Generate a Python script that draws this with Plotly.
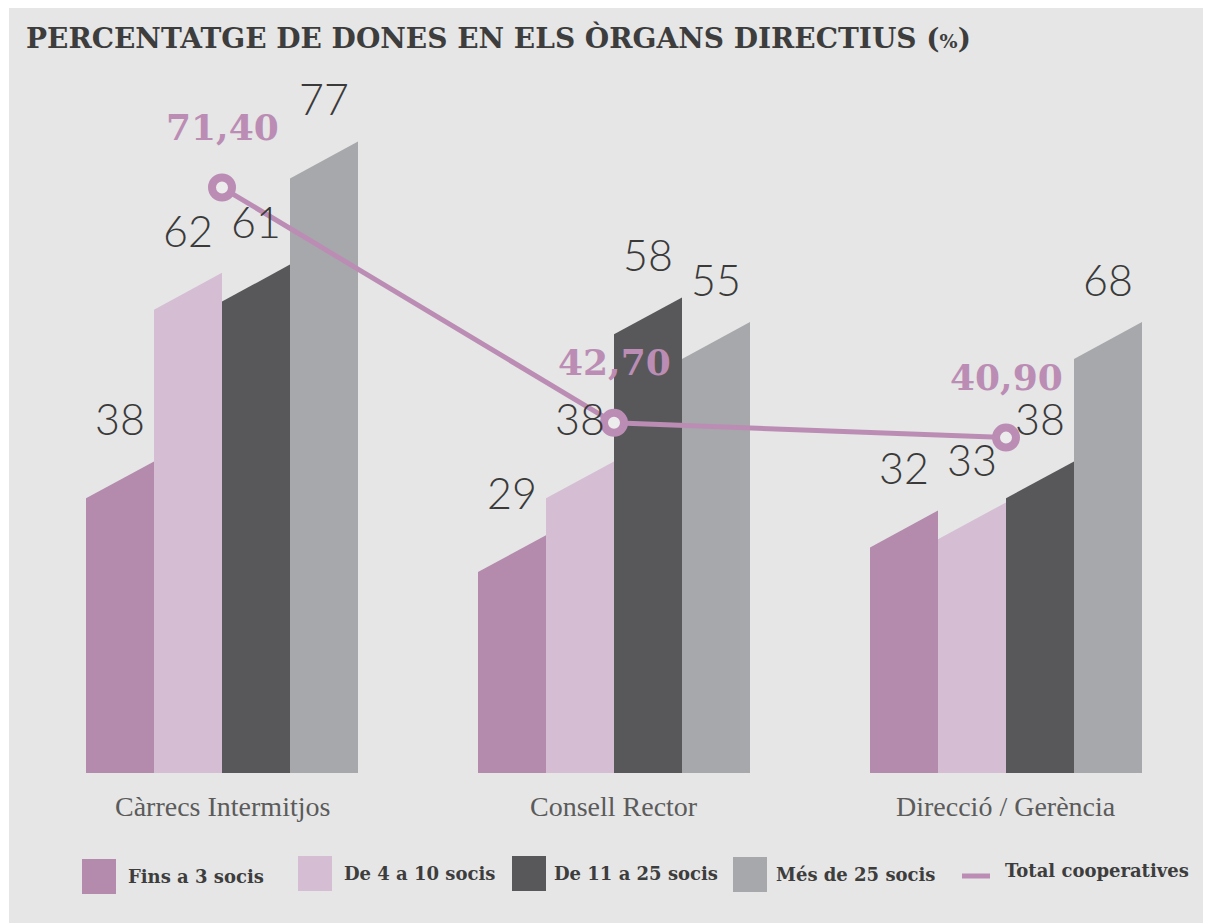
import plotly.graph_objects as go

# ---------------- data ----------------
categories = ["Càrrecs Intermitjos", "Consell Rector", "Direcció / Gerència"]
series_names = ["Fins a 3 socis", "De 4 a 10 socis", "De 11 a 25 socis", "Més de 25 socis"]
# printed value labels
fins_3 = [38, 29, 32]
de_4_10 = [62, 38, 33]
de_11_25 = [61, 58, 38]
mes_25 = [77, 55, 68]
# bar heights as drawn in the original graphic
fins_3_drawn = [38, 29, 32]
de_4_10_drawn = [61, 38, 33]
de_11_25_drawn = [62, 58, 38]
mes_25_drawn = [77, 55, 55]
total_name = "Total cooperatives"
total_coop = [71.40, 42.70, 40.90]

# ---------------- style ----------------
colors = ["#b48aad", "#d5bdd3", "#58585b", "#a7a8ab"]
line_color = "#bb8db5"
bg = "#e6e6e6"
OFF = 8                      # page body margin
W_FIG, H_FIG = 1211 - OFF, 923 - OFF
PW, PH = 1176, 738
L, T = 26 - OFF, 35 - OFF
R, B = W_FIG - L - PW, H_FIG - T - PH
BASE = T + PH                # figure pixel of y=0
BAR_W = 68 / 392.0           # in x units (group spacing = 1)
SLANT = 4.5                  # y units
Y_MAX = 90

def px2x(p):                 # screenshot pixel -> paper x
    return (p - OFF - L) / PW

def py2y(p):                 # screenshot pixel -> paper y
    return (BASE - (p - OFF)) / PH

fig = go.Figure()

printed = [fins_3, de_4_10, de_11_25, mes_25]
drawn = [fins_3_drawn, de_4_10_drawn, de_11_25_drawn, mes_25_drawn]

annotations = []
for si, (vals, labs) in enumerate(zip(drawn, printed)):
    for gi, v in enumerate(vals):
        x0 = gi + (si - 2) * BAR_W
        x1 = x0 + BAR_W
        fig.add_trace(go.Scatter(
            x=[x0, x0, x1, x1, x0], y=[0, v - SLANT, v, 0, 0],
            mode="lines", fill="toself", fillcolor=colors[si],
            line=dict(width=0, color=colors[si]), hoverinfo="skip",
            showlegend=False))
        annotations.append(dict(
            x=(x0 + x1) / 2, y=v + 5.2, xref="x", yref="y",
            text=str(labs[gi]), showarrow=False, yanchor="middle",
            font=dict(family="Lato", size=43, color="#3a3a3a", weight=300)))

fig.add_trace(go.Scatter(
    x=list(range(len(categories))), y=total_coop, mode="lines+markers",
    line=dict(color=line_color, width=5),
    marker=dict(size=20, color="#ececec", line=dict(color=line_color, width=8)),
    hoverinfo="skip", showlegend=False))

for gi, v in enumerate(total_coop):
    annotations.append(dict(
        x=gi, y=v + 7.4, xref="x", yref="y",
        text=f"{v:.2f}".replace(".", ","), showarrow=False, yanchor="middle",
        font=dict(family="DejaVu Serif", size=36, color=line_color, weight="bold")))

for gi, c in enumerate(categories):
    annotations.append(dict(
        x=gi, y=0, xref="x", yref="y", yshift=-33, text=c, showarrow=False,
        yanchor="middle",
        font=dict(family="Liberation Serif", size=28, color="#5b5b5b")))

# title
annotations.append(dict(
    x=px2x(24), y=py2y(38), xref="paper", yref="paper", xanchor="left",
    yanchor="middle", showarrow=False,
    text="PERCENTATGE DE DONES EN ELS ÒRGANS DIRECTIUS (<span style='font-size:19px'>%</span>)",
    font=dict(family="DejaVu Serif", size=28, color="#3d3d3d", weight="bold")))

shapes = [dict(type="rect", xref="paper", yref="paper", layer="below",
               x0=px2x(9), x1=px2x(1220), y0=py2y(935), y1=py2y(0),
               fillcolor=bg, line=dict(width=0))]

# manual legend (screenshot pixel positions)
leg_sq = [(82, 859), (298, 856), (512, 856), (733, 857)]
leg_txt = [(126, 876), (342, 873), (552, 873), (774, 874)]
for si, name in enumerate(series_names):
    sx, sy = leg_sq[si]
    shapes.append(dict(type="rect", xref="paper", yref="paper",
                       x0=px2x(sx), x1=px2x(sx + 34), y0=py2y(sy + 35), y1=py2y(sy),
                       fillcolor=colors[si], line=dict(width=0)))
    tx, ty = leg_txt[si]
    annotations.append(dict(
        x=px2x(tx), y=py2y(ty), xref="paper", yref="paper", xanchor="left",
        yanchor="middle", showarrow=False, text=name,
        font=dict(family="DejaVu Serif", size=18, color="#3d3d3d", weight="bold")))
shapes.append(dict(type="line", xref="paper", yref="paper",
                   x0=px2x(962), x1=px2x(990), y0=py2y(876), y1=py2y(876),
                   line=dict(color=line_color, width=5)))
annotations.append(dict(
    x=px2x(1003), y=py2y(870), xref="paper", yref="paper", xanchor="left",
    yanchor="middle", showarrow=False, text=total_name,
    font=dict(family="DejaVu Serif", size=18, color="#3d3d3d", weight="bold")))

fig.update_layout(
    width=W_FIG, height=H_FIG,
    margin=dict(l=L, r=R, t=T, b=B, pad=0),
    paper_bgcolor="white", plot_bgcolor="rgba(0,0,0,0)",
    xaxis=dict(range=[-0.5, 2.5], visible=False, fixedrange=True),
    yaxis=dict(range=[0, Y_MAX], visible=False, fixedrange=True),
    annotations=annotations, shapes=shapes, showlegend=False)

fig.write_html("out.html")
